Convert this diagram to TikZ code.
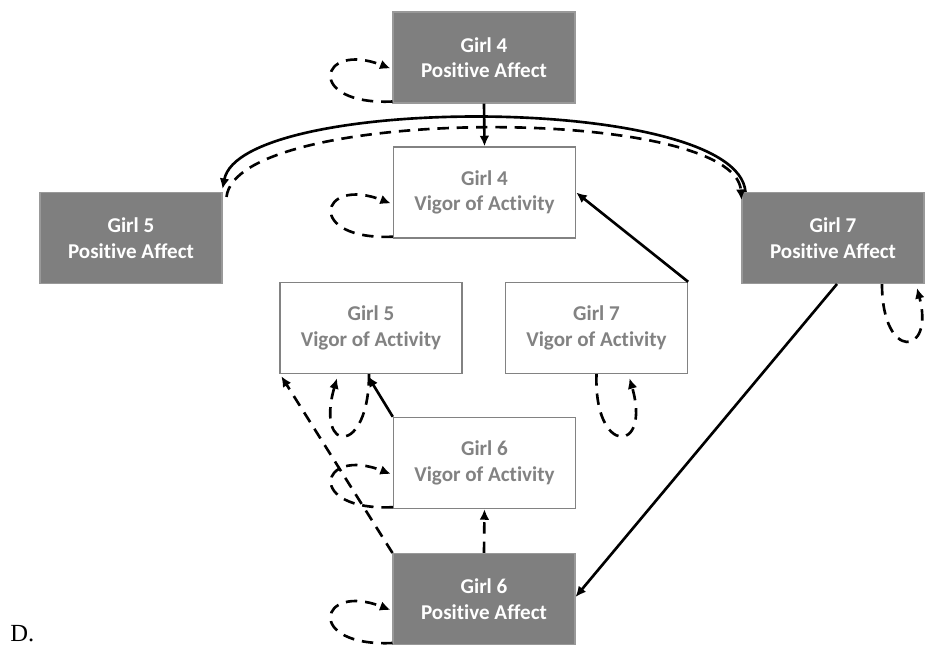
\documentclass[tikz,border=0pt]{standalone}
\usepackage{fontspec}
\setsansfont{Carlito}[Ligatures=NoCommon]
\newfontfamily\labelfont{Liberation Serif}
\usetikzlibrary{arrows.meta,calc}
\definecolor{affectgray}{RGB}{127,127,127}
\definecolor{vigorgray}{RGB}{130,130,130}
\begin{document}
\begin{tikzpicture}[x=0.02cm, y=-0.02cm,
    affect/.style={fill=affectgray, draw=affectgray!80!white, line width=0.6pt, minimum width=3.64cm, minimum height=1.82cm, align=center, text=white, font=\sffamily\bfseries\fontsize{12}{14.5}\selectfont},
    vigor/.style={affect, fill=white, draw=vigorgray, text=vigorgray, line width=0.8pt},
    link/.style={line width=1.5pt, -{Latex[length=6pt,width=5.5pt]}},
    dlink/.style={link, dash pattern=on 6.5pt off 4.5pt}]
    \useasboundingbox (0,0) rectangle (927,656);
    % boxes
    \node[affect] (g4pa) at (484,57.5) {Girl 4\\Positive Affect};
    \node[vigor] (g4v) at (484.5,192.5) {Girl 4\\Vigor of Activity};
    \node[affect] (g5pa) at (131,238) {Girl 5\\Positive Affect};
    \node[affect] (g7pa) at (833,238) {Girl 7\\Positive Affect};
    \node[vigor] (g5v) at (371,328) {Girl 5\\Vigor of Activity};
    \node[vigor] (g7v) at (596.5,328) {Girl 7\\Vigor of Activity};
    \node[vigor] (g6v) at (484.5,463) {Girl 6\\Vigor of Activity};
    \node[affect] (g6pa) at (484,599) {Girl 6\\Positive Affect};
    \node[anchor=base west, inner sep=0pt, font=\labelfont\fontsize{14}{16}\selectfont] (dlabel) at (10,641) {D.};
    % arcs between the girls
    \draw[link] ($(g7pa.north west)+(4,0)$) .. controls +(-8,-99) and +(18,-95) .. ($(g5pa.north east)+(0,-3)$);
    \draw[dlink] ($(g5pa.north east)+(4,5)$) .. controls +(10,-92) and +(-6,-95) .. ($(g7pa.north west)+(0,8)$);
    % straight paths
    \draw[link] (g4pa.south) -- (g4v.north);
    \draw[link] (g7v.north east) -- (g4v.east);
    \draw[link] ($(g7pa.south)+(4,0)$) -- ($(g6pa.east)+(0,-2)$);
    \draw[dlink] (g6pa.north) -- (g6v.south);
    \draw[dlink] (g6pa.north west) -- ($(g5v.south west)+(2,2)$);
    \draw[link] (g6v.north west) -- ($(g5v.south)+(-3,2)$);
    % self loops
    \foreach \b in {g4pa,g4v,g6v,g6pa}
        \draw[dlink] ($(\b.south west)+(0,-2)$) .. controls +(-88,4) and +(-72,-28) .. ($(\b.west)+(-2,11)$);
    \draw[dlink] ($(g5v.south)+(-2,0)$) .. controls +(0,82) and +(-22,76) .. ($(g5v.south)+(-34,4)$);
    \draw[dlink] ($(g7v.south)+(0,0)$) .. controls +(-3,82) and +(22,76) .. ($(g7v.south)+(33,4)$);
    \draw[dlink] ($(g7pa.south)+(49,0)$) .. controls +(0,78) and +(18,68) .. ($(g7pa.south)+(84,4)$);
\end{tikzpicture}
\end{document}
